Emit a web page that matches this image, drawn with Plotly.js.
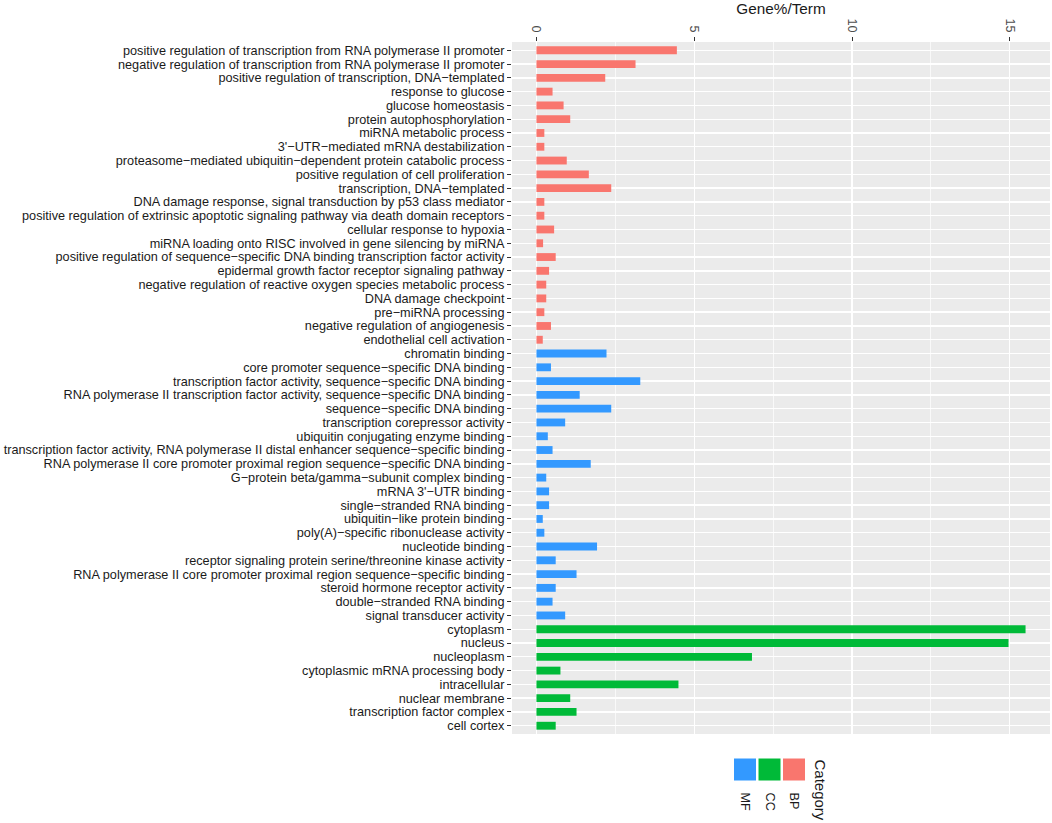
<!DOCTYPE html>
<html lang="en">
  <head>
    <meta charset="UTF-8" />
    <title>Gene%/Term</title>
    <script src="https://cdn.plot.ly/plotly-3.0.1.min.js"></script>
    <style>
      body {
        margin: 0;
        padding: 0;
        background: #ffffff;
      }
      #plot {
        width: 1052px;
        height: 823px;
      }
    </style>
  </head>
  <body>
    <div id="plot"></div>

    <script>
      // BP terms and values (Gene%/Term)
      const bpTerms = [
        "positive regulation of transcription from RNA polymerase II promoter",
        "negative regulation of transcription from RNA polymerase II promoter",
        "positive regulation of transcription, DNA−templated",
        "response to glucose",
        "glucose homeostasis",
        "protein autophosphorylation",
        "miRNA metabolic process",
        "3'−UTR−mediated mRNA destabilization",
        "proteasome−mediated ubiquitin−dependent protein catabolic process",
        "positive regulation of cell proliferation",
        "transcription, DNA−templated",
        "DNA damage response, signal transduction by p53 class mediator",
        "positive regulation of extrinsic apoptotic signaling pathway via death domain receptors",
        "cellular response to hypoxia",
        "miRNA loading onto RISC involved in gene silencing by miRNA",
        "positive regulation of sequence−specific DNA binding transcription factor activity",
        "epidermal growth factor receptor signaling pathway",
        "negative regulation of reactive oxygen species metabolic process",
        "DNA damage checkpoint",
        "pre−miRNA processing",
        "negative regulation of angiogenesis",
        "endothelial cell activation",
      ];
      const bpValues = [
        4.45, 3.14, 2.18, 0.51, 0.86, 1.07, 0.25, 0.25, 0.96, 1.66, 2.37,
        0.25, 0.25, 0.56, 0.21, 0.61, 0.4, 0.31, 0.31, 0.25, 0.46, 0.2,
      ];

      const mfTerms = [
        "chromatin binding",
        "core promoter sequence−specific DNA binding",
        "transcription factor activity, sequence−specific DNA binding",
        "RNA polymerase II transcription factor activity, sequence−specific DNA binding",
        "sequence−specific DNA binding",
        "transcription corepressor activity",
        "ubiquitin conjugating enzyme binding",
        "transcription factor activity, RNA polymerase II distal enhancer sequence−specific binding",
        "RNA polymerase II core promoter proximal region sequence−specific DNA binding",
        "G−protein beta/gamma−subunit complex binding",
        "mRNA 3'−UTR binding",
        "single−stranded RNA binding",
        "ubiquitin−like protein binding",
        "poly(A)−specific ribonuclease activity",
        "nucleotide binding",
        "receptor signaling protein serine/threonine kinase activity",
        "RNA polymerase II core promoter proximal region sequence−specific binding",
        "steroid hormone receptor activity",
        "double−stranded RNA binding",
        "signal transducer activity",
      ];
      const mfValues = [
        2.22, 0.46, 3.29, 1.37, 2.37, 0.91, 0.36, 0.51, 1.72, 0.31, 0.4, 0.4,
        0.2, 0.25, 1.92, 0.61, 1.27, 0.61, 0.51, 0.91,
      ];

      const ccTerms = [
        "cytoplasm",
        "nucleus",
        "nucleoplasm",
        "cytoplasmic mRNA processing body",
        "intracellular",
        "nuclear membrane",
        "transcription factor complex",
        "cell cortex",
      ];
      const ccValues = [15.5, 14.96, 6.83, 0.76, 4.5, 1.07, 1.27, 0.61];

      const xTicks = [0, 5, 10, 15];
      const legendNames = ["MF", "CC", "BP"];

      const colors = { BP: "#F9766E", CC: "#00BA38", MF: "#3399FF" };
      const font = "Liberation Sans, Arial, Helvetica, sans-serif";

      const allTerms = bpTerms.concat(mfTerms, ccTerms);
      const nRows = allTerms.length;
      const xMax = Math.max(...bpValues, ...mfValues, ...ccValues);
      const pad = xMax * 0.05;

      // plot area in pixels (ggplot panel)
      const W = 1052,
        H = 823;
      const M = { l: 512, r: 2, t: 42, b: 89 };
      const pw = W - M.l - M.r,
        ph = H - M.t - M.b;
      const px = (x) => (x - M.l) / pw;
      const py = (y) => (H - M.b - y) / ph;

      function barTrace(name, terms, values) {
        return {
          type: "bar",
          orientation: "h",
          name: name,
          x: values,
          y: terms,
          marker: { color: colors[name], line: { width: 0 } },
          hoverinfo: "x+y",
          showlegend: false,
        };
      }

      const data = [
        barTrace("BP", bpTerms, bpValues),
        barTrace("MF", mfTerms, mfValues),
        barTrace("CC", ccTerms, ccValues),
      ];

      // hand-drawn legend (keys and labels are rotated in the original)
      const shapes = [];
      const annotations = [];
      const keyX = [733.5, 758, 782.5];
      legendNames.forEach((name, i) => {
        shapes.push({
          type: "rect",
          xref: "paper",
          yref: "paper",
          x0: px(keyX[i]),
          x1: px(keyX[i] + 23),
          y0: py(758),
          y1: py(781),
          fillcolor: colors[name],
          line: { color: "#ffffff", width: 1 },
        });
        annotations.push({
          xref: "paper",
          yref: "paper",
          x: px(keyX[i] + 11.5),
          y: py(790),
          xanchor: "center",
          yanchor: "top",
          text: name,
          textangle: 90,
          showarrow: false,
          font: { family: font, size: 12.7, color: "#1a1a1a" },
        });
      });
      annotations.push({
        xref: "paper",
        yref: "paper",
        x: px(820),
        y: py(757),
        xanchor: "center",
        yanchor: "top",
        text: "Category",
        textangle: 90,
        showarrow: false,
        font: { family: font, size: 15, color: "#1a1a1a" },
      });

      const layout = {
        width: W,
        height: H,
        margin: M,
        paper_bgcolor: "#ffffff",
        plot_bgcolor: "#EBEBEB",
        barmode: "overlay",
        bargap: 0.43,
        font: { family: font, size: 12.7, color: "#1a1a1a" },
        xaxis: {
          side: "top",
          range: [-pad, xMax + pad],
          tickvals: xTicks,
          ticktext: xTicks.map(String),
          tickangle: 90,
          ticks: "outside",
          ticklen: 4,
          tickwidth: 1,
          tickcolor: "#333333",
          tickfont: { family: font, size: 12.7, color: "#4d4d4d" },
          showgrid: true,
          gridcolor: "#ffffff",
          gridwidth: 1.4,
          minor: {
            dtick: 2.5,
            tick0: 0,
            showgrid: true,
            gridcolor: "#ffffff",
            gridwidth: 0.7,
            ticks: "",
          },
          zeroline: false,
          showline: false,
          title: {
            text: "Gene%/Term",
            font: { family: font, size: 15.3, color: "#1a1a1a" },
            standoff: 5,
          },
        },
        yaxis: {
          type: "category",
          categoryorder: "array",
          categoryarray: allTerms,
          tickmode: "array",
          tickvals: allTerms,
          ticktext: allTerms,
          range: [nRows - 1 + 0.6, -0.6],
          ticks: "outside",
          ticklen: 4,
          tickwidth: 1,
          tickcolor: "#333333",
          tickfont: { family: font, size: 12.7, color: "#1a1a1a" },
          showgrid: true,
          gridcolor: "#ffffff",
          gridwidth: 1.4,
          zeroline: false,
          showline: false,
          automargin: false,
        },
        shapes: shapes,
        annotations: annotations,
      };

      Plotly.newPlot("plot", data, layout, { displayModeBar: false, staticPlot: true });
    </script>
  </body>
</html>
